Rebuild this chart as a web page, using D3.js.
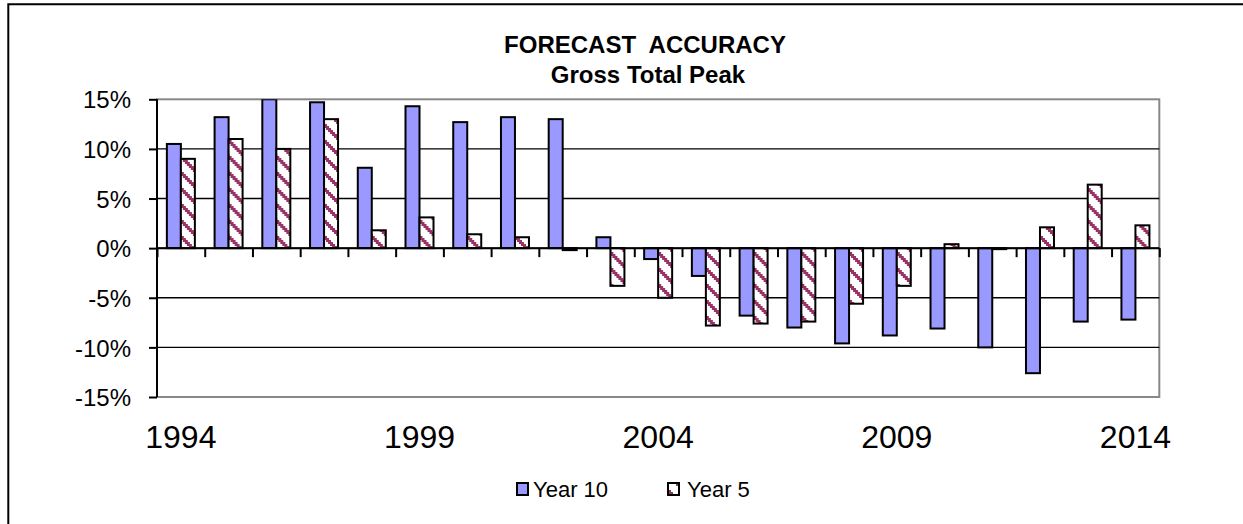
<!DOCTYPE html>
<html>
<head>
<meta charset="utf-8">
<script src="https://cdn.jsdelivr.net/npm/d3@7"></script>
<style>
  html, body { margin: 0; padding: 0; background: #fff; }
  svg { display: block; font-family: Arial, "Liberation Sans", sans-serif; }
</style>
</head>
<body>
<svg id="chart" width="1243" height="524"></svg>
<script>
// Forecast accuracy (percent error) per forecast year
const years = ["1994","1995","1996","1997","1998","1999","2000","2001","2002","2003","2004",
               "2005","2006","2007","2008","2009","2010","2011","2012","2013","2014"];
const year10 = [10.5, 13.2, 15.0, 14.7, 8.1, 14.3, 12.7, 13.2, 13.0, 1.1, -1.1,
                -2.8, -6.8, -8.0, -9.6, -8.8, -8.1, -10.0, -12.6, -7.4, -7.2];
const year5  = [9.0, 11.0, 10.0, 13.0, 1.8, 3.1, 1.4, 1.1, -0.2, -3.8, -5.0,
                -7.8, -7.6, -7.4, -5.6, -3.8, 0.4, -0.1, 2.1, 6.4, 2.3];
const seriesNames = ["Year 10", "Year 5"];
const yTicks = [-15, -10, -5, 0, 5, 10, 15];
const xLabelYears = ["1994", "1999", "2004", "2009", "2014"];

const svg = d3.select("#chart");
const plot = { left: 157, right: 1159.3, top: 99.3, bottom: 397 };

// hatch pattern for the Year 5 series: stepped "\" stripes
const defs = svg.append("defs");
const pat = defs.append("pattern")
  .attr("id", "hatch").attr("patternUnits", "userSpaceOnUse")
  .attr("width", 16).attr("height", 16);
pat.append("rect").attr("width", 16).attr("height", 16).attr("fill", "#fff");
for (let r = 0; r < 8; r++) {
  const x = 2 * r, w = 5;
  pat.append("rect").attr("x", x).attr("y", 2 * r).attr("width", w).attr("height", 2).attr("fill", "#993366");
  if (x + w > 16) {
    pat.append("rect").attr("x", x - 16).attr("y", 2 * r).attr("width", w).attr("height", 2).attr("fill", "#993366");
  }
}
defs.append("clipPath").attr("id", "plotClip").append("rect")
  .attr("x", plot.left).attr("y", plot.top)
  .attr("width", plot.right - plot.left).attr("height", plot.bottom - plot.top);

// outer chart frame
svg.append("path")
  .attr("d", `M1250,4.3 L8.3,4.3 L8.3,530`)
  .attr("fill", "none").attr("stroke", "#000").attr("stroke-width", 2);

// scales
const y = d3.scaleLinear().domain([-15, 15]).range([plot.bottom, plot.top]);
const inner = 1 - 28 / ((plot.right - plot.left) / years.length);
const x0 = d3.scaleBand().domain(years).range([plot.left, plot.right])
  .paddingInner(inner).paddingOuter(inner / 2);
const x1 = d3.scaleBand().domain(seriesNames).range([0, x0.bandwidth()]);
const boundary = d3.scaleLinear().domain([0, years.length]).range([plot.left, plot.right]);

// plot area border (grey) and gridlines
svg.append("rect")
  .attr("x", plot.left).attr("y", plot.top)
  .attr("width", plot.right - plot.left).attr("height", plot.bottom - plot.top)
  .attr("fill", "none").attr("stroke", "#888").attr("stroke-width", 2);
svg.append("g").selectAll("line")
  .data(yTicks.filter(d => d > -15 && d < 15))
  .join("line")
  .attr("x1", plot.left).attr("x2", plot.right)
  .attr("y1", d => y(d)).attr("y2", d => y(d))
  .attr("stroke", "#000").attr("stroke-width", 1.4);

// bars
const rows = years.map((yr, i) => ({ year: yr, values: [
  { key: "Year 10", v: year10[i] }, { key: "Year 5", v: year5[i] } ] }));
const bars = svg.append("g").attr("clip-path", "url(#plotClip)");
bars.selectAll("g").data(rows).join("g")
  .attr("transform", d => `translate(${x0(d.year)},0)`)
  .selectAll("rect").data(d => d.values).join("rect")
  .attr("x", d => x1(d.key))
  .attr("width", x1.bandwidth())
  .attr("y", d => y(Math.max(0, d.v)))
  .attr("height", d => Math.abs(y(d.v) - y(0)))
  .attr("fill", d => d.key === "Year 10" ? "#9999ff" : "url(#hatch)")
  .attr("stroke", "#000").attr("stroke-width", 2);

// category axis at 0% with tick marks on category boundaries
const xAxis = svg.append("g").attr("transform", `translate(0,${y(0)})`)
  .call(d3.axisBottom(boundary).tickValues(d3.range(years.length + 1)).tickSize(9).tickFormat(""));
xAxis.select(".domain").attr("stroke", "#000").attr("stroke-width", 2).attr("d", `M${plot.left},0H${plot.right}`);
xAxis.selectAll(".tick line").attr("stroke", "#000").attr("stroke-width", 2);

// year labels below the plot area
const xLab = svg.append("g").attr("transform", `translate(0,${plot.bottom})`)
  .call(d3.axisBottom(x0).tickValues(xLabelYears).tickSize(0).tickPadding(0));
xLab.select(".domain").remove();
xLab.selectAll("text")
  .attr("y", 51).attr("dy", null)
  .attr("font-family", "Arial, 'Liberation Sans', sans-serif")
  .attr("font-size", 32).attr("fill", "#000");

// value axis
const yAxis = svg.append("g").attr("transform", `translate(${plot.left},0)`)
  .call(d3.axisLeft(y).tickValues(yTicks).tickSize(8).tickPadding(18).tickFormat(d => d + "%"));
yAxis.select(".domain").attr("stroke", "#000").attr("stroke-width", 2)
  .attr("d", `M0,${plot.top}V${plot.bottom}`);
yAxis.selectAll(".tick line").attr("stroke", "#000").attr("stroke-width", 2);
yAxis.selectAll("text")
  .attr("font-family", "Arial, 'Liberation Sans', sans-serif")
  .attr("font-size", 24).attr("fill", "#000").attr("dy", "0.36em");

// title
const title = svg.append("text").attr("x", 645).attr("text-anchor", "middle")
  .attr("font-weight", "bold").attr("font-size", 24).attr("fill", "#000");
title.append("tspan").attr("x", 645).attr("y", 53).text("FORECAST  ACCURACY").attr("xml:space", "preserve");
title.append("tspan").attr("x", 648).attr("y", 83).text("Gross Total Peak");

// legend
const legend = [
  { name: "Year 10", fill: "#9999ff", mx: 517, tx: 533 },
  { name: "Year 5", fill: "url(#hatch)", mx: 668, tx: 687 }
];
const lg = svg.append("g").selectAll("g").data(legend).join("g");
lg.append("rect").attr("x", d => d.mx).attr("y", 483).attr("width", 11).attr("height", 12)
  .attr("fill", d => d.fill).attr("stroke", "#000").attr("stroke-width", 2);
lg.append("text").attr("x", d => d.tx).attr("y", 497)
  .attr("font-size", 22).attr("fill", "#000").text(d => d.name);
</script>
</body>
</html>
